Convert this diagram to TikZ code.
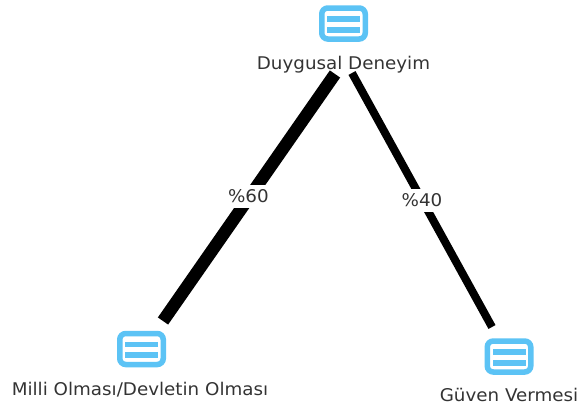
\documentclass[tikz,border=0pt]{standalone}
\usepackage{fontspec}
\setmainfont[FakeStretch=1.045]{DejaVu Sans}
\definecolor{iconblue}{HTML}{5CC3F5}
\definecolor{labelgrey}{HTML}{333333}
\tikzset{
  iconbox/.style={draw=iconblue,line width=5.5pt,rounded corners=6pt,fill=white,
    minimum width=43.5pt,minimum height=31pt,inner sep=0pt,
    path picture={
      \fill[iconblue,sharp corners] ([xshift=-16.5pt,yshift=2pt]path picture bounding box.center) rectangle ([xshift=16.5pt,yshift=7.5pt]path picture bounding box.center);
      \fill[iconblue,sharp corners] ([xshift=-16.5pt,yshift=-9pt]path picture bounding box.center) rectangle ([xshift=16.5pt,yshift=-3.3pt]path picture bounding box.center);
    }},
  caption/.style={text=labelgrey,font=\fontsize{17.5pt}{19pt}\selectfont,inner sep=0pt,anchor=center},
  share/.style={text=labelgrey,font=\fontsize{17.5pt}{19pt}\selectfont,fill=white,inner sep=0pt,minimum height=23pt,minimum width=42pt},
  link/.style={draw=black,line cap=butt},
}
\begin{document}
\begin{tikzpicture}[x=1pt,y=-1pt]
\useasboundingbox (0,0) rectangle (579,407);
\node[iconbox] (itop) at (343.5,23.5) {};
\node[iconbox] (ileft) at (141.5,349) {};
\node[iconbox] (iright) at (509,356.5) {};
\node[caption] (ttop) at (343.5,64.5) {Duygusal Deneyim};
\node[caption] (tleft) at (140,390) {Milli Olması/Devletin Olması};
\node[caption] (tright) at (509,395) {Güven Vermesi};
\coordinate (la) at (335,74);
\coordinate (lb) at (163,321);
\coordinate (ra) at (352,73);
\coordinate (rb) at (492,327);
\draw[link,line width=12.5pt] (la) -- node[share,pos=0.495,xshift=-1.5pt] (p60) {\%60} (lb);
\draw[link,line width=8pt] (ra) -- node[share,pos=0.50] (p40) {\%40} (rb);
\end{tikzpicture}
\end{document}
